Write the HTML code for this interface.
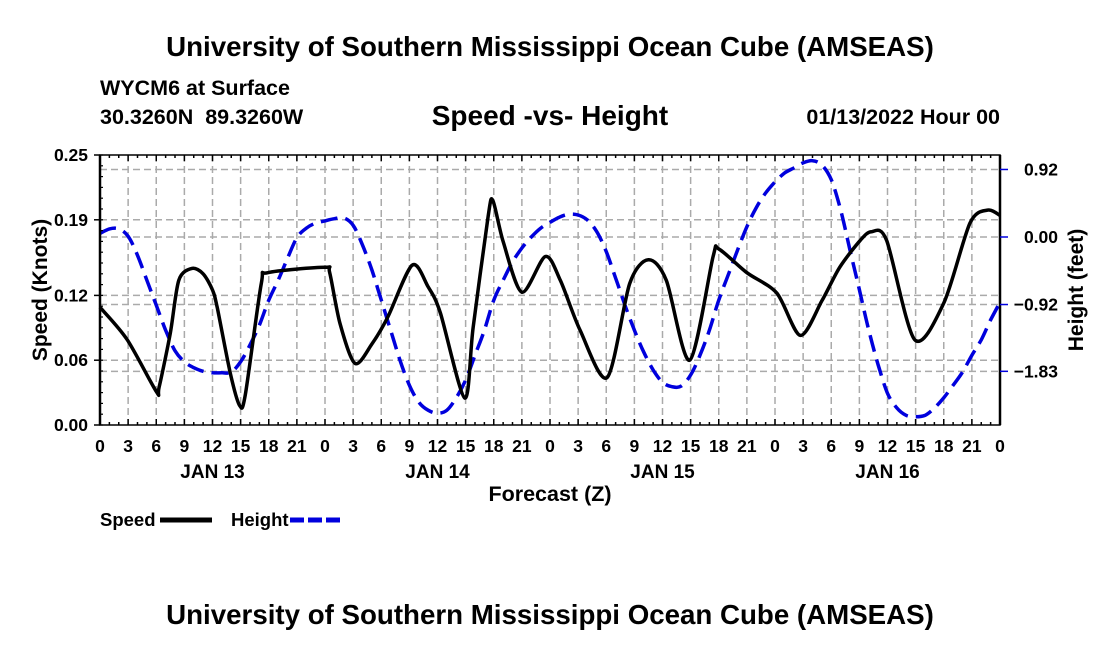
<!DOCTYPE html>
<html><head><meta charset="utf-8"><style>
body{margin:0;background:#fff;}
svg text{font-family:"Liberation Sans",Arial,sans-serif;font-weight:bold;fill:#000;}
</style></head><body>
<svg id="chart" width="1100" height="650" viewBox="0 0 1100 650" xmlns="http://www.w3.org/2000/svg">
<text x="550" y="56" font-size="27.7" text-anchor="middle">University of Southern Mississippi Ocean Cube (AMSEAS)</text>
<text x="100" y="95" font-size="21.5">WYCM6 at Surface</text>
<text x="100" y="124" font-size="21.5" xml:space="preserve">30.3260N  89.3260W</text>
<text x="550" y="125" font-size="28" text-anchor="middle">Speed -vs- Height</text>
<text x="1000" y="124" font-size="21.5" text-anchor="end">01/13/2022 Hour 00</text>
<text transform="translate(47,290) rotate(-90)" font-size="21" text-anchor="middle">Speed (Knots)</text>
<text transform="translate(1083,290) rotate(-90)" font-size="21" text-anchor="middle">Height (feet)</text>
<text x="550" y="501" font-size="21.5" text-anchor="middle">Forecast (Z)</text>
<g>
<text x="100" y="526" font-size="18.5">Speed</text>
<line x1="160" y1="520" x2="212" y2="520" stroke="#000" stroke-width="5"/>
<text x="231" y="526" font-size="18.5">Height</text>
<line x1="290" y1="520" x2="342" y2="520" stroke="#0000dd" stroke-width="5" stroke-dasharray="14,4"/>
</g>
<text x="550" y="624" font-size="27.7" text-anchor="middle">University of Southern Mississippi Ocean Cube (AMSEAS)</text>
<g id="grid"></g><g id="series"></g><g id="axes"></g>
</svg>
<script>
const speedHours=[0,2.9,6,6.3,7.5,8.4,9.8,11,12,12.5,13.9,14.9,15.5,17.2,17.9,24,24.5,25.6,27.2,29,30.7,33.3,35,36.3,38.9,39.8,41.4,41.9,43,45,47.5,49.1,51.2,54.1,56.5,58.5,60.4,62.9,65.4,66,69,72.2,74.7,77,78.9,81.1,82.3,83.9,86.9,90,92.8,94.7,96];
const speedValues=[0.109,0.079,0.031,0.035,0.085,0.134,0.145,0.14,0.125,0.109,0.048,0.018,0.028,0.131,0.141,0.146,0.141,0.094,0.057,0.075,0.1,0.148,0.128,0.104,0.025,0.09,0.193,0.208,0.17,0.123,0.156,0.134,0.088,0.044,0.131,0.153,0.134,0.06,0.156,0.163,0.141,0.122,0.083,0.115,0.146,0.171,0.179,0.171,0.079,0.113,0.187,0.199,0.194];
const heightValues=[0.05,0.11,0.11,0.01,-0.25,-0.59,-0.93,-1.27,-1.55,-1.70,-1.78,-1.83,-1.85,-1.85,-1.84,-1.70,-1.47,-1.20,-0.86,-0.59,-0.29,-0.01,0.12,0.19,0.22,0.25,0.26,0.16,-0.11,-0.45,-0.86,-1.27,-1.68,-2.02,-2.25,-2.36,-2.40,-2.36,-2.19,-1.95,-1.61,-1.27,-0.86,-0.59,-0.34,-0.15,0,0.12,0.20,0.27,0.31,0.30,0.23,0.07,-0.20,-0.56,-0.93,-1.27,-1.57,-1.81,-1.98,-2.04,-2.03,-1.88,-1.61,-1.27,-0.86,-0.52,-0.18,0.14,0.40,0.60,0.75,0.87,0.94,1.01,1.04,0.98,0.78,0.37,-0.18,-0.72,-1.27,-1.74,-2.13,-2.33,-2.43,-2.45,-2.43,-2.33,-2.19,-2.02,-1.84,-1.61,-1.40,-1.13,-0.89];
const speedTicks=[0,0.06,0.12,0.19,0.25];
const speedTickLabels=["0.00","0.06","0.12","0.19","0.25"];
const heightTicks=[0.92,0,-0.92,-1.83];
const heightTickLabels=["0.92","0.00","\u22120.92","\u22121.83"];
const xTickHours=[0,3,6,9,12,15,18,21,24,27,30,33,36,39,42,45,48,51,54,57,60,63,66,69,72,75,78,81,84,87,90,93,96];
const dayLabels=["JAN 13","JAN 14","JAN 15","JAN 16"];
const L=100,R=1000,T=155,B=425;
const xs=h=>L+(R-L)*h/96;
const ys=v=>B-(B-T)*v/0.25;
const yh=h=>237-h*73.4;
const NS="http://www.w3.org/2000/svg";
function mk(parent,tag,attrs){const e=document.createElementNS(NS,tag);for(const k in attrs)e.setAttribute(k,attrs[k]);document.getElementById(parent).appendChild(e);return e;}
function smooth(pts,f){let d="M"+pts[0][0]+","+pts[0][1];for(let i=0;i<pts.length-1;i++){const p0=pts[Math.max(i-1,0)],p1=pts[i],p2=pts[i+1],p3=pts[Math.min(i+2,pts.length-1)];const c1x=p1[0]+(p2[0]-p0[0])/f,c1y=p1[1]+(p2[1]-p0[1])/f,c2x=p2[0]-(p3[0]-p1[0])/f,c2y=p2[1]-(p3[1]-p1[1])/f;d+=" C"+c1x.toFixed(1)+","+c1y.toFixed(1)+" "+c2x.toFixed(1)+","+c2y.toFixed(1)+" "+p2[0].toFixed(1)+","+p2[1].toFixed(1);}return d;}
xTickHours.forEach(h=>{if(h>0&&h<96){const g=mk("grid","line",{x1:xs(h),x2:xs(h),y1:T,y2:B,stroke:"#aaa","stroke-width":1.5,"stroke-dasharray":"7,4"});

}});
speedTicks.forEach(v=>{if(v>0&&v<0.25){const g=mk("grid","line",{x1:L,x2:R,y1:ys(v),y2:ys(v),stroke:"#aaa","stroke-width":1.5,"stroke-dasharray":"7,4"});

}});
heightTicks.forEach(v=>{const g=mk("grid","line",{x1:L,x2:R,y1:yh(v),y2:yh(v),stroke:"#aaa","stroke-width":1.5,"stroke-dasharray":"7,4"});

});
const hp=heightValues.map((v,i)=>[xs(i),yh(v)]);
const hl=mk("series","path",{d:smooth(hp,6),fill:"none",stroke:"#0000dd","stroke-width":3.5,"stroke-dasharray":"17,8"});


const sp=speedHours.map((h,i)=>[xs(h),ys(speedValues[i])]);
const sl=mk("series","path",{d:smooth(sp,7),fill:"none",stroke:"#000","stroke-width":3.5,"stroke-linejoin":"round"});


const fr=mk("axes","rect",{x:L,y:T,width:R-L,height:B-T,fill:"none",stroke:"#000","stroke-width":1.5});


mk("axes","line",{x1:L,x2:L,y1:T,y2:B,stroke:"#000","stroke-width":2.5});
mk("axes","line",{x1:R,x2:R,y1:T,y2:B,stroke:"#000","stroke-width":2.5});
for(let h=0;h<=96;h++){const len=h%3===0?6:3;mk("axes","line",{x1:xs(h),x2:xs(h),y1:B,y2:B-len,stroke:"#000","stroke-width":1.5});mk("axes","line",{x1:xs(h),x2:xs(h),y1:T,y2:T+len,stroke:"#000","stroke-width":1.5});}
for(let v=0;v<=0.25001;v+=0.01){mk("axes","line",{x1:L,x2:L+3,y1:ys(v),y2:ys(v),stroke:"#000","stroke-width":1.2});}
xTickHours.forEach(h=>{const t=mk("axes","text",{x:xs(h),y:452,"font-size":17.5,"text-anchor":"middle"});t.textContent=String(h%24);

});
dayLabels.forEach((d,i)=>{const t=mk("axes","text",{x:xs(i*24+12),y:478,"font-size":19,"text-anchor":"middle"});t.textContent=d;

});
speedTicks.forEach((v,i)=>{mk("axes","line",{x1:L-6,x2:L,y1:ys(v),y2:ys(v),stroke:"#000","stroke-width":1.5});const t=mk("axes","text",{x:88,y:ys(v)+6,"font-size":17.5,"text-anchor":"end"});t.textContent=speedTickLabels[i];

});
heightTicks.forEach((v,i)=>{mk("axes","line",{x1:R,x2:R+8,y1:yh(v),y2:yh(v),stroke:"#0000dd","stroke-width":1.5});const t=mk("axes","text",{x:1058,y:yh(v)+6,"font-size":17.5,"text-anchor":"end"});t.textContent=heightTickLabels[i];

});
</script>
</body></html>
